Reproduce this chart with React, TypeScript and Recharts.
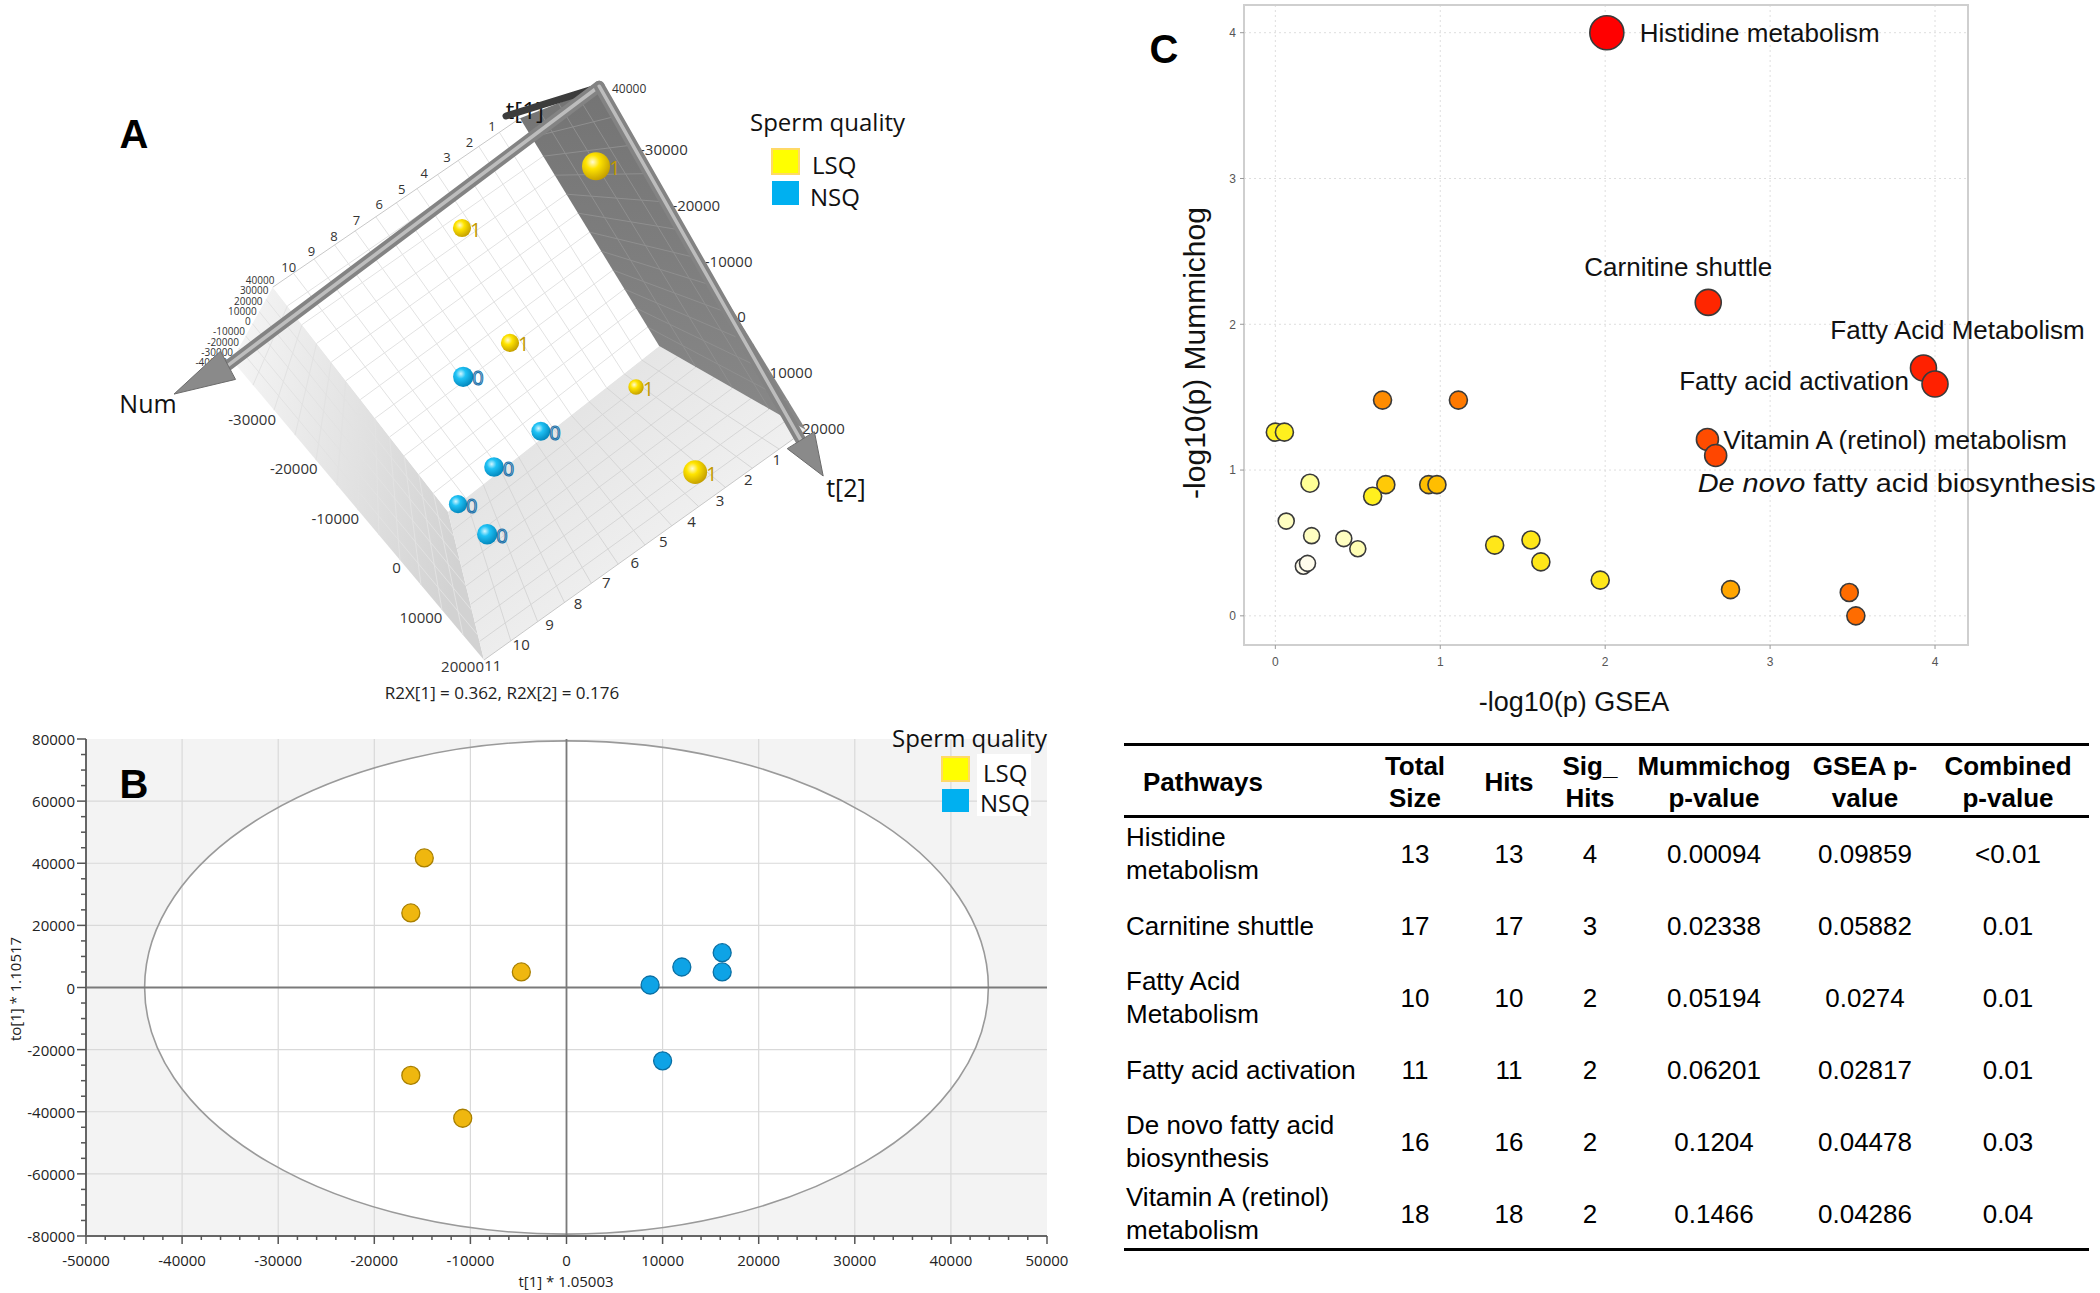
import React from "react";
import { CartesianGrid, ReferenceArea, Scatter, ScatterChart, XAxis, YAxis } from "recharts";

const SANS = "'Liberation Sans', Arial, sans-serif";
const UI = "'Open Sans', 'Noto Sans', sans-serif";

type Pt = [number, number];

// ---------- Panel A: 3D score plot, in projected view units (0-100) ----------
const aLsqH = [62.0, 45.25, 51.25, 67.0, 74.4];
const aLsqV = [83.4, 73.75, 55.8, 48.9, 35.6];
const aLsqDepth = [1.0, 0.3, 0.3, 0.1, 0.7];
const aNsqH = [45.4, 55.1, 49.25, 44.75, 48.4];
const aNsqV = [50.5, 42.0, 36.4, 30.6, 25.9];
const aNsqDepth = [0.45, 0.35, 0.4, 0.3, 0.45];

const aNumTicks = ["1", "2", "3", "4", "5", "6", "7", "8", "9", "10"];
const aFloorTicks = ["1", "2", "3", "4", "5", "6", "7", "8", "9", "10", "11"];
const aEdgeTicks = ["-30000", "-20000", "-10000", "0", "10000", "20000"];
const aStackTicks = ["40000", "30000", "20000", "10000", "0", "-10000", "-20000", "-30000", "-40000"];

// corners of the projected box
const box: Record<string, Pt> = {
  w1: [21.6, 64.5],
  w2: [52.5, 90.9],
  w3: [69.9, 55.3],
  w4: [43.5, 29.4],
  d2: [62.1, 95.6],
  d3: [88.25, 42.2],
  f4: [48.0, 6.25],
  l4: [16.5, 53.1],
};

// ---------- Panel B: OPLS-DA scores ----------
const bLsqT1 = [-14800, -16200, -4700, -16200, -10800];
const bLsqTo1 = [41700, 24000, 5000, -28300, -42100];
const bNsqT1 = [8700, 12000, 16200, 16200, 10000];
const bNsqTo1 = [800, 6600, 11200, 5000, -23600];
const ellipseT1 = 43900;
const ellipseTo1 = 79400;
const bXMajor = [-50000, -40000, -30000, -20000, -10000, 0, 10000, 20000, 30000, 40000, 50000];
const bYMajor = [-80000, -60000, -40000, -20000, 0, 20000, 40000, 60000, 80000];
const bXTicks = Array.from({ length: 51 }, (_, i) => -50000 + i * 2000);
const bYTicks = Array.from({ length: 33 }, (_, i) => -80000 + i * 5000);

// ---------- Panel C: mummichog vs GSEA ----------
const cPathways = [
  "Histidine metabolism",
  "Carnitine shuttle",
  "Fatty Acid Metabolism",
  "Fatty acid activation",
  "Vitamin A (retinol) metabolism",
  "De novo fatty acid biosynthesis",
  "", "", "", "", "", "", "", "", "", "", "", "", "", "", "", "", "", "", "", "", "", "",
];
const cGsea = [2.01, 2.625, 3.93, 4.0, 2.62, 2.67, 0.65, 1.11, 0.0, 0.055, 0.21, 0.67, 0.93, 0.98, 0.59, 0.066, 0.22, 0.415, 0.5, 0.17, 0.195, 1.33, 1.55, 1.61, 1.97, 2.76, 3.48, 3.52];
const cMummichog = [4.0, 2.15, 1.7, 1.59, 1.21, 1.1, 1.48, 1.48, 1.26, 1.26, 0.91, 0.9, 0.9, 0.9, 0.82, 0.65, 0.55, 0.53, 0.46, 0.34, 0.36, 0.485, 0.52, 0.37, 0.245, 0.18, 0.16, 0.0];
const cCombined = [2.4, 2.0, 2.05, 2.05, 1.45, 1.5, 1.05, 1.15, 0.62, 0.62, 0.45, 0.8, 0.85, 0.85, 0.62, 0.35, 0.35, 0.35, 0.38, 0.25, 0.25, 0.66, 0.66, 0.66, 0.66, 0.95, 1.22, 1.22];
const cTicks = [0, 1, 2, 3, 4];

const cLabelPlacement: Record<string, { anchor: "start" | "middle" | "end"; dx: number; dy: number; width?: number }> = {
  "Histidine metabolism": { anchor: "start", dx: 33, dy: 0 },
  "Carnitine shuttle": { anchor: "middle", dx: -30, dy: -35 },
  "Fatty Acid Metabolism": { anchor: "middle", dx: 34, dy: -38 },
  "Fatty acid activation": { anchor: "end", dx: -26, dy: -3 },
  "Vitamin A (retinol) metabolism": { anchor: "start", dx: 16, dy: 1 },
  "De novo fatty acid biosynthesis": { anchor: "start", dx: -18, dy: 28, width: 398 },
};

// ---------- Table ----------
const tPathways = [
  "Histidine metabolism",
  "Carnitine shuttle",
  "Fatty Acid Metabolism",
  "Fatty acid activation",
  "De novo fatty acid biosynthesis",
  "Vitamin A (retinol) metabolism",
];
const tTotalSize = [13, 17, 10, 11, 16, 18];
const tHits = [13, 17, 10, 11, 16, 18];
const tSigHits = [4, 3, 2, 2, 2, 2];
const tMummichogP = ["0.00094", "0.02338", "0.05194", "0.06201", "0.1204", "0.1466"];
const tGseaP = ["0.09859", "0.05882", "0.0274", "0.02817", "0.04478", "0.04286"];
const tCombinedP = ["<0.01", "0.01", "0.01", "0.01", "0.03", "0.04"];
const tHeaders = [["Total", "Size"], ["Hits"], ["Sig_", "Hits"], ["Mummichog", "p-value"], ["GSEA p-", "value"], ["Combined", "p-value"]];
const tWrapped: Record<string, string[]> = {
  "Histidine metabolism": ["Histidine", "metabolism"],
  "Fatty Acid Metabolism": ["Fatty Acid", "Metabolism"],
  "De novo fatty acid biosynthesis": ["De novo fatty acid", "biosynthesis"],
  "Vitamin A (retinol) metabolism": ["Vitamin A (retinol)", "metabolism"],
};

const lsqA = aLsqH.map((h, i) => ({ h, v: aLsqV[i], depth: aLsqDepth[i], group: "1" }));
const nsqA = aNsqH.map((h, i) => ({ h, v: aNsqV[i], depth: aNsqDepth[i], group: "0" }));
const lsqB = bLsqT1.map((t1, i) => ({ t1, to1: bLsqTo1[i] }));
const nsqB = bNsqT1.map((t1, i) => ({ t1, to1: bNsqTo1[i] }));
const cData = cGsea.map((g, i) => ({ gsea: g, mum: cMummichog[i], combined: cCombined[i], name: cPathways[i] }));
const cLabeled = cData.filter((d) => d.name !== "");

const colorStops: [number, number[]][] = [
  [0.25, [255, 252, 236]],
  [0.45, [255, 255, 150]],
  [0.62, [255, 240, 30]],
  [0.85, [255, 190, 0]],
  [1.05, [255, 140, 0]],
  [1.25, [255, 102, 0]],
  [1.5, [255, 70, 0]],
  [2.0, [255, 38, 0]],
  [2.4, [255, 0, 0]],
];

function bubbleColor(v: number) {
  if (v <= colorStops[0][0]) return `rgb(${colorStops[0][1].join(",")})`;
  for (let i = 1; i < colorStops.length; i++) {
    const [v1, c1] = colorStops[i];
    const [v0, c0] = colorStops[i - 1];
    if (v <= v1) {
      const t = (v - v0) / (v1 - v0);
      return `rgb(${c0.map((c, k) => Math.round(c + (c1[k] - c) * t)).join(",")})`;
    }
  }
  return "rgb(255,0,0)";
}

function bubbleRadius(v: number) {
  if (v >= 2.3) return 17;
  if (v >= 1.9) return 13;
  if (v >= 1.4) return 11;
  if (v < 0.4) return 8;
  return 9;
}

const lerp = (a: Pt, b: Pt, t: number): Pt => [a[0] + (b[0] - a[0]) * t, a[1] + (b[1] - a[1]) * t];

function Scene3D(props: any) {
  const { x, y, width, height } = props;
  if (width == null || height == null) return null;
  const P = (p: Pt): Pt => [x + (p[0] / 100) * width, y + height - (p[1] / 100) * height];
  const poly = (pts: Pt[]) => pts.map((p) => P(p).join(",")).join(" ");
  const grid = (p00: Pt, p10: Pt, p01: Pt, p11: Pt, n: number, m: number, color: string, key: string) => {
    const out: any[] = [];
    for (let i = 1; i < n; i++) {
      const a = P(lerp(p00, p10, i / n));
      const b = P(lerp(p01, p11, i / n));
      out.push(<line key={`${key}a${i}`} x1={a[0]} y1={a[1]} x2={b[0]} y2={b[1]} stroke={color} strokeWidth={1} />);
    }
    for (let j = 1; j < m; j++) {
      const a = P(lerp(p00, p01, j / m));
      const b = P(lerp(p10, p11, j / m));
      out.push(<line key={`${key}b${j}`} x1={a[0]} y1={a[1]} x2={b[0]} y2={b[1]} stroke={color} strokeWidth={1} />);
    }
    return out;
  };
  const arrow = (s: Pt, b: Pt, t: Pt) => {
    const S = P(s);
    const B = P(b);
    const T = P(t);
    const dx = T[0] - B[0];
    const dy = T[1] - B[1];
    const len = Math.hypot(dx, dy);
    const nx = (-dy / len) * 16;
    const ny = (dx / len) * 16;
    return (
      <g>
        <line x1={S[0]} y1={S[1]} x2={B[0]} y2={B[1]} stroke="#838383" strokeWidth={11} strokeLinecap="round" />
        <line x1={S[0]} y1={S[1]} x2={B[0]} y2={B[1]} stroke="#bdbdbd" strokeWidth={3.5} strokeLinecap="round" />
        <polygon
          points={`${B[0] + nx},${B[1] + ny} ${T[0]},${T[1]} ${B[0] - nx},${B[1] - ny}`}
          fill="#8a8a8a"
          stroke="#6c6c6c"
          strokeWidth={1}
        />
      </g>
    );
  };
  const labelRow = (labels: string[], from: Pt, to: Pt, anchor: string, size: number, key: string) =>
    labels.map((lab, i) => {
      const q = P(lerp(from, to, labels.length > 1 ? i / (labels.length - 1) : 0));
      return (
        <text key={`${key}${i}`} x={q[0]} y={q[1]} textAnchor={anchor as any} dominantBaseline="central" fontSize={size} fontFamily={UI} fill="#333">
          {lab}
        </text>
      );
    });
  const { w1, w2, w3, w4, d2, d3, f4, l4 } = box;
  const t1Pos = P([53.1, 92.2]);
  const darkA = P([50.75, 91.25]);
  const darkB = P([62.0, 95.6]);
  const numPos = P([6.0, 46.4]);
  const t2Pos = P([93.25, 33.3]);
  return (
    <g>
      <polygon points={poly([w1, w4, f4, l4])} fill="url(#wallShade)" />
      {grid(w1, l4, w4, f4, 6, 12, "#e2e2e2", "wall")}
      <polygon points={poly([w4, w3, d3, f4])} fill="url(#floorShade)" />
      {grid(w4, w3, f4, d3, 12, 8, "#d6d6d6", "floor")}
      <polygon points={poly([w4, w3, w2, w1])} fill="#ffffff" />
      {grid(w4, w3, w1, w2, 12, 12, "#e2e2e2", "white")}
      <polygon points={poly([w2, d2, d3, w3])} fill="url(#darkShade)" />
      {grid(w2, d2, w3, d3, 4, 12, "#8f8f8f", "dark")}
      <line x1={P(f4)[0]} y1={P(f4)[1]} x2={P(d3)[0]} y2={P(d3)[1]} stroke="#c8c8c8" strokeWidth={1} />
      <line x1={P(w1)[0]} y1={P(w1)[1]} x2={P(w2)[0]} y2={P(w2)[1]} stroke="#c8c8c8" strokeWidth={1} />
      {labelRow(aNumTicks, [49.0, 89.7], [23.6, 67.65], "middle", 13, "num")}
      {labelRow(aFloorTicks, [84.6, 37.7], [49.1, 5.5], "middle", 15, "floor")}
      {labelRow(aEdgeTicks, [22.0, 43.9], [48.0, 5.3], "end", 15, "edge")}
      {labelRow(aEdgeTicks, [67.5, 86.1], [87.75, 42.5], "start", 15, "dedge")}
      {labelRow(aStackTicks, [21.8, 65.6], [15.9, 52.8], "end", 10, "stack")}
      <text x={P([64.0, 95.6])[0]} y={P([64.0, 95.6])[1]} fontSize={12} fontFamily={UI} fill="#333" dominantBaseline="central">
        40000
      </text>
      <text x={t1Pos[0]} y={t1Pos[1]} fontSize={24} fontFamily={UI} fill="#111" textAnchor="middle" dominantBaseline="central">
        t[1]
      </text>
      <line x1={darkA[0]} y1={darkA[1]} x2={darkB[0]} y2={darkB[1]} stroke="#3c3c3c" strokeWidth={7} strokeLinecap="round" />
      {arrow([62.4, 95.9], [16.0, 52.3], [9.25, 47.8])}
      {arrow([62.4, 95.9], [87.6, 40.6], [90.4, 35.0])}
      <text x={numPos[0]} y={numPos[1]} fontSize={25} fontFamily={UI} fill="#111" textAnchor="middle" dominantBaseline="central">
        Num
      </text>
      <text x={t2Pos[0]} y={t2Pos[1]} fontSize={25} fontFamily={UI} fill="#111" textAnchor="middle" dominantBaseline="central">
        t[2]
      </text>
    </g>
  );
}

function Sphere(props: any) {
  const { cx, cy, payload } = props;
  const r = 7 + 7 * payload.depth;
  const isLsq = payload.group === "1";
  return (
    <g>
      <circle cx={cx} cy={cy} r={r} fill={isLsq ? "url(#ballLsq)" : "url(#ballNsq)"} />
      <text
        x={cx + r - 1}
        y={cy + 1}
        fontSize={20}
        fontFamily={UI}
        dominantBaseline="central"
        fill={isLsq ? "#c29a00" : "none"}
        stroke={isLsq ? "none" : "#1a72aa"}
        strokeWidth={1.1}
      >
        {payload.group}
      </text>
    </g>
  );
}

function OplsBackground(props: any) {
  const { x, y, width, height } = props;
  if (width == null || height == null) return null;
  const px = (v: number) => x + ((v + 50000) / 100000) * width;
  const py = (v: number) => y + ((80000 - v) / 160000) * height;
  return (
    <g>
      <rect x={x} y={y} width={width} height={height} fill="#f3f3f3" />
      <ellipse
        cx={px(0)}
        cy={py(0)}
        rx={px(ellipseT1) - px(0)}
        ry={py(0) - py(ellipseTo1)}
        fill="#ffffff"
      />
      {bXMajor.slice(1, -1).map((v) => (
        <line key={`gx${v}`} x1={px(v)} x2={px(v)} y1={y} y2={y + height} stroke="#d9d9d9" strokeWidth={1.2} />
      ))}
      {bYMajor.slice(1, -1).map((v) => (
        <line key={`gy${v}`} x1={x} x2={x + width} y1={py(v)} y2={py(v)} stroke="#d9d9d9" strokeWidth={1.2} />
      ))}
      <ellipse
        cx={px(0)}
        cy={py(0)}
        rx={px(ellipseT1) - px(0)}
        ry={py(0) - py(ellipseTo1)}
        fill="none"
        stroke="#9a9a9a"
        strokeWidth={1.6}
      />
      <line x1={px(0)} x2={px(0)} y1={y} y2={y + height} stroke="#7a7a7a" strokeWidth={1.8} />
      <line x1={x} x2={x + width} y1={py(0)} y2={py(0)} stroke="#7a7a7a" strokeWidth={2} />
    </g>
  );
}

function BXTick(props: any) {
  const { x, y, payload } = props;
  const v = payload.value;
  const major = v % 10000 === 0;
  return (
    <g>
      <line x1={x} x2={x} y1={y} y2={y + (major ? 8 : 4)} stroke="#555" strokeWidth={1.5} />
      {major && (
        <text x={x} y={y + 24} textAnchor="middle" dominantBaseline="central" fontSize={15} fontFamily={UI} fill="#222">
          {String(v)}
        </text>
      )}
    </g>
  );
}

function BYTick(props: any) {
  const { x, y, payload } = props;
  const v = payload.value;
  const major = v % 20000 === 0;
  return (
    <g>
      <line x1={x} x2={x - (major ? 9 : 5)} y1={y} y2={y} stroke="#555" strokeWidth={1.5} />
      {major && (
        <text x={x - 11} y={y} textAnchor="end" dominantBaseline="central" fontSize={15} fontFamily={UI} fill="#222">
          {String(v)}
        </text>
      )}
    </g>
  );
}

function ScoreDot(props: any) {
  const { cx, cy, fill, stroke } = props;
  return <circle cx={cx} cy={cy} r={9} fill={fill} stroke={stroke} strokeWidth={1.3} />;
}

function PathwayDot(props: any) {
  const { cx, cy, payload } = props;
  return (
    <circle
      cx={cx}
      cy={cy}
      r={bubbleRadius(payload.combined)}
      fill={bubbleColor(payload.combined)}
      stroke="#3a3a3a"
      strokeWidth={1.6}
    />
  );
}

function PathwayLabel(props: any) {
  const { cx, cy, payload } = props;
  const place = cLabelPlacement[payload.name];
  if (!place) return null;
  const italic = payload.name.startsWith("De novo");
  return (
    <text
      x={cx + place.dx}
      y={cy + place.dy}
      textAnchor={place.anchor}
      dominantBaseline="central"
      fontSize={26}
      fontFamily={SANS}
      fill="#111"
      textLength={place.width}
      lengthAdjust={place.width ? "spacingAndGlyphs" : undefined}
    >
      {italic ? (
        <>
          <tspan fontStyle="italic">De novo</tspan>
          <tspan> fatty acid biosynthesis</tspan>
        </>
      ) : (
        payload.name
      )}
    </text>
  );
}

const colX = [1415, 1509, 1590, 1714, 1865, 2008];
const rowY = [854, 926, 998, 1070, 1142, 1214];

function TableCell({ cx, cy, lines, bold }: { cx: number; cy: number; lines: string[]; bold?: boolean }) {
  return (
    <div
      style={{
        position: "absolute",
        left: cx - 100,
        width: 200,
        top: cy - 40,
        height: 80,
        display: "flex",
        alignItems: "center",
        justifyContent: "center",
        textAlign: "center",
        lineHeight: "32px",
        fontSize: 26,
        fontWeight: bold ? "bold" : "normal",
        whiteSpace: "nowrap",
      }}
    >
      <div>
        {lines.map((l) => (
          <div key={l}>{l}</div>
        ))}
      </div>
    </div>
  );
}

export default function App() {
  const rule = (top: number) => (
    <div style={{ position: "absolute", left: 1124, width: 965, top, height: 3, background: "#000" }} />
  );
  return (
    <div
      style={{
        position: "absolute",
        left: 0,
        top: 0,
        width: 2100,
        height: 1293,
        background: "#ffffff",
        overflow: "hidden",
        fontFamily: SANS,
        color: "#000",
      }}
    >
      <svg width={0} height={0} style={{ position: "absolute" }}>
        <defs>
          <radialGradient id="ballLsq" cx="38%" cy="35%" r="70%">
            <stop offset="0%" stopColor="#fffbd2" />
            <stop offset="35%" stopColor="#ffe400" />
            <stop offset="100%" stopColor="#c09a00" />
          </radialGradient>
          <radialGradient id="ballNsq" cx="38%" cy="35%" r="70%">
            <stop offset="0%" stopColor="#d2f6ff" />
            <stop offset="35%" stopColor="#1fc2f5" />
            <stop offset="100%" stopColor="#0082b8" />
          </radialGradient>
          <linearGradient id="floorShade" x1="0" y1="0" x2="1" y2="1">
            <stop offset="0%" stopColor="#dcdcdc" />
            <stop offset="100%" stopColor="#fbfbfb" />
          </linearGradient>
          <linearGradient id="wallShade" x1="1" y1="0.2" x2="0" y2="0">
            <stop offset="0%" stopColor="#d2d2d2" />
            <stop offset="100%" stopColor="#f6f6f6" />
          </linearGradient>
          <linearGradient id="darkShade" x1="0" y1="0" x2="0" y2="1">
            <stop offset="0%" stopColor="#747474" />
            <stop offset="100%" stopColor="#888888" />
          </linearGradient>
        </defs>
      </svg>

      {/* Panel A */}
      <div style={{ position: "absolute", left: 100, top: 60 }}>
        <ScatterChart width={800} height={640} margin={{ top: 0, right: 0, bottom: 0, left: 0 }}>
          <XAxis type="number" dataKey="h" domain={[0, 100]} hide height={0} />
          <YAxis type="number" dataKey="v" domain={[0, 100]} hide width={0} />
          <ReferenceArea x1={0} x2={100} y1={0} y2={100} shape={(p: any) => <Scene3D {...p} />} />
          <Scatter data={lsqA} isAnimationActive={false} shape={(p: any) => <Sphere {...p} />} />
          <Scatter data={nsqA} isAnimationActive={false} shape={(p: any) => <Sphere {...p} />} />
        </ScatterChart>
      </div>

      {/* Panel B */}
      <div style={{ position: "absolute", left: 0, top: 700 }}>
        <ScatterChart width={1080} height={593} margin={{ top: 39, right: 33, bottom: 27, left: 16 }}>
          <XAxis
            type="number"
            dataKey="t1"
            domain={[-50000, 50000]}
            ticks={bXTicks}
            interval={0}
            height={30}
            tickSize={0}
            tickMargin={0}
            tickLine={false}
            axisLine={{ stroke: "#666", strokeWidth: 2 }}
            tick={(p: any) => <BXTick {...p} />}
          />
          <YAxis
            type="number"
            dataKey="to1"
            domain={[-80000, 80000]}
            ticks={bYTicks}
            interval={0}
            width={70}
            tickSize={0}
            tickMargin={0}
            tickLine={false}
            axisLine={{ stroke: "#666", strokeWidth: 2 }}
            tick={(p: any) => <BYTick {...p} />}
          />
          <ReferenceArea x1={-50000} x2={50000} y1={-80000} y2={80000} shape={(p: any) => <OplsBackground {...p} />} />
          <Scatter
            data={lsqB}
            isAnimationActive={false}
            fill="#efb70f"
            shape={(p: any) => <ScoreDot {...p} fill="#efb70f" stroke="#a87f00" />}
          />
          <Scatter
            data={nsqB}
            isAnimationActive={false}
            fill="#0ea3e6"
            shape={(p: any) => <ScoreDot {...p} fill="#0ea3e6" stroke="#0a6fa3" />}
          />
        </ScatterChart>
      </div>

      {/* Panel C */}
      <div style={{ position: "absolute", left: 1150, top: 0 }}>
        <ScatterChart width={950} height={720} margin={{ top: 5, right: 132, bottom: 45, left: 64 }}>
          <CartesianGrid strokeDasharray="2 3" stroke="#dedede" />
          <XAxis
            type="number"
            dataKey="gsea"
            domain={[-0.19, 4.2]}
            ticks={cTicks}
            height={30}
            tickSize={4}
            tickMargin={8}
            axisLine={false}
            tickLine={{ stroke: "#999" }}
            tick={{ fontSize: 12, fill: "#555", fontFamily: SANS }}
          />
          <YAxis
            type="number"
            dataKey="mum"
            domain={[-0.2, 4.19]}
            ticks={cTicks}
            width={30}
            tickSize={4}
            tickMargin={4}
            axisLine={false}
            tickLine={{ stroke: "#999" }}
            tick={{ fontSize: 12, fill: "#555", fontFamily: SANS }}
          />
          <ReferenceArea x1={-0.19} x2={4.2} y1={-0.2} y2={4.19} fill="none" stroke="#cfcfcf" strokeWidth={2} />
          <Scatter data={cData} isAnimationActive={false} shape={(p: any) => <PathwayDot {...p} />} />
          <Scatter data={cLabeled} isAnimationActive={false} shape={(p: any) => <PathwayLabel {...p} />} />
        </ScatterChart>
      </div>

      {/* Table */}
      {rule(743)}
      {rule(815)}
      {rule(1248)}
      <div
        style={{ position: "absolute", left: 1143, top: 766, fontSize: 26, fontWeight: "bold", lineHeight: "32px" }}
      >
        Pathways
      </div>
      {tHeaders.map((h, i) => (
        <TableCell key={`h${i}`} cx={colX[i]} cy={782} lines={h} bold />
      ))}
      {tPathways.map((name, r) => (
        <React.Fragment key={name}>
          <div
            style={{
              position: "absolute",
              left: 1126,
              width: 300,
              top: rowY[r] - 40,
              height: 80,
              display: "flex",
              alignItems: "center",
              fontSize: 26,
              lineHeight: "33px",
              whiteSpace: "nowrap",
            }}
          >
            <div>
              {(tWrapped[name] || [name]).map((l) => (
                <div key={l}>{l}</div>
              ))}
            </div>
          </div>
          <TableCell cx={colX[0]} cy={rowY[r]} lines={[String(tTotalSize[r])]} />
          <TableCell cx={colX[1]} cy={rowY[r]} lines={[String(tHits[r])]} />
          <TableCell cx={colX[2]} cy={rowY[r]} lines={[String(tSigHits[r])]} />
          <TableCell cx={colX[3]} cy={rowY[r]} lines={[tMummichogP[r]]} />
          <TableCell cx={colX[4]} cy={rowY[r]} lines={[tGseaP[r]]} />
          <TableCell cx={colX[5]} cy={rowY[r]} lines={[tCombinedP[r]]} />
        </React.Fragment>
      ))}

      {/* Text overlay: panel letters, legends, axis titles */}
      <svg width={2100} height={1293} style={{ position: "absolute", left: 0, top: 0, pointerEvents: "none" }}>
        <text x={134} y={134} fontSize={40} fontWeight="bold" fontFamily={SANS} textAnchor="middle" dominantBaseline="central">
          A
        </text>
        <text x={134} y={784} fontSize={40} fontWeight="bold" fontFamily={SANS} textAnchor="middle" dominantBaseline="central">
          B
        </text>
        <text x={1164} y={49} fontSize={40} fontWeight="bold" fontFamily={SANS} textAnchor="middle" dominantBaseline="central">
          C
        </text>

        {/* legend A */}
        <text x={750} y={121} fontSize={24} fontFamily={UI} fill="#111" dominantBaseline="central">
          Sperm quality
        </text>
        <rect x={772} y={149} width={27} height={25} fill="#ffff00" stroke="#ffd966" strokeWidth={2} />
        <text x={812} y={164} fontSize={24} fontFamily={UI} fill="#111" dominantBaseline="central">
          LSQ
        </text>
        <rect x={772} y={181} width={27} height={24} fill="#00b0f0" />
        <text x={810} y={196} fontSize={24} fontFamily={UI} fill="#111" dominantBaseline="central">
          NSQ
        </text>
        <text x={502} y={692} fontSize={17} fontFamily={UI} fill="#222" textAnchor="middle" dominantBaseline="central">
          R2X[1] = 0.362, R2X[2] = 0.176
        </text>

        {/* legend B */}
        <text x={892} y={737} fontSize={24} fontFamily={UI} fill="#111" dominantBaseline="central">
          Sperm quality
        </text>
        <rect x={977} y={754} width={54} height={62} fill="#ffffff" />
        <rect x={942} y={757} width={27} height={24} fill="#ffff00" stroke="#ffd966" strokeWidth={2} />
        <text x={983} y={772} fontSize={24} fontFamily={UI} fill="#111" dominantBaseline="central">
          LSQ
        </text>
        <rect x={942} y={789} width={27} height={23} fill="#00b0f0" />
        <text x={980} y={802} fontSize={24} fontFamily={UI} fill="#111" dominantBaseline="central">
          NSQ
        </text>
        <text x={566} y={1281} fontSize={15} fontFamily={UI} fill="#222" textAnchor="middle" dominantBaseline="central">
          t[1] * 1.05003
        </text>
        <text
          transform="translate(15,989) rotate(-90)"
          fontSize={15}
          fontFamily={UI}
          fill="#222"
          textAnchor="middle"
          dominantBaseline="central"
        >
          to[1] * 1.10517
        </text>

        {/* axis titles C */}
        <text
          transform="translate(1194,353) rotate(-90)"
          fontSize={30}
          fontFamily={SANS}
          fill="#111"
          textAnchor="middle"
          dominantBaseline="central"
        >
          -log10(p) Mummichog
        </text>
        <text x={1574} y={702} fontSize={27} fontFamily={SANS} fill="#111" textAnchor="middle" dominantBaseline="central">
          -log10(p) GSEA
        </text>
      </svg>
    </div>
  );
}
